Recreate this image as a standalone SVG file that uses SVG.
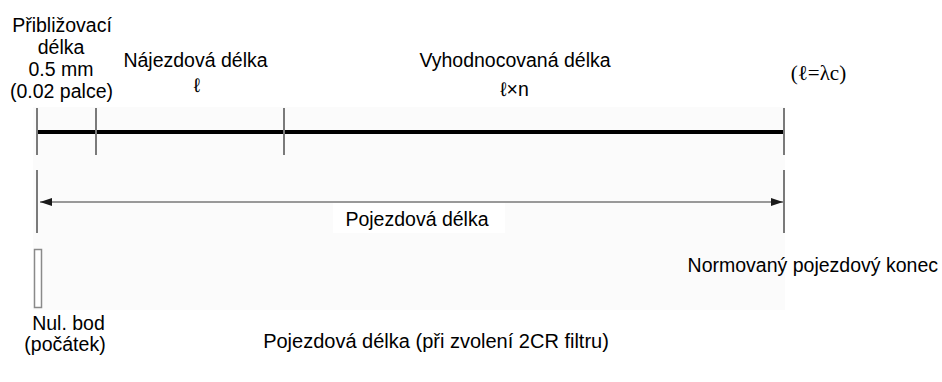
<svg xmlns="http://www.w3.org/2000/svg" width="942" height="382" viewBox="0 0 942 382">
  <style>
    .t { font-family: "Liberation Sans", Arial, sans-serif; font-size: 19.5px; fill: #000; }
    .cap { font-size: 20px; }
    .serif { font-family: "Liberation Serif", "DejaVu Serif", serif; font-size: 21px; fill: #000; }
    .tick { stroke: #7a7a7a; stroke-width: 2; }
  </style>
  <defs>
    <marker id="ah" viewBox="0 0 12 8" refX="12" refY="4" markerWidth="12" markerHeight="8" markerUnits="userSpaceOnUse" orient="auto-start-reverse">
      <path d="M0,0 L12,4 L0,8 Z" fill="#1a1a1a"/>
    </marker>
  </defs>
  <rect width="942" height="382" fill="#ffffff"/>
  <rect id="panel" x="33" y="107" width="752" height="203" fill="#fbfbfb"/>

  <g id="connectors">
    <line id="thick-line" x1="37" y1="132" x2="784" y2="132" stroke="#000" stroke-width="4"/>
    <line class="tick" x1="37" y1="108" x2="37" y2="155"/>
    <line class="tick" x1="96" y1="108" x2="96" y2="155"/>
    <line class="tick" x1="284" y1="108" x2="284" y2="155"/>
    <line class="tick" x1="784" y1="108" x2="784" y2="155"/>
    <line class="tick" x1="37" y1="170" x2="37" y2="233"/>
    <line class="tick" x1="784" y1="170" x2="784" y2="233"/>
    <line id="travel-arrow" x1="40" y1="202" x2="783" y2="202" stroke="#999" stroke-width="2" marker-start="url(#ah)" marker-end="url(#ah)"/>
  </g>

  <g id="approach">
    <text class="t" x="62" y="32" text-anchor="middle">Přibližovací</text>
    <text class="t" x="61" y="54" text-anchor="middle">délka</text>
    <text class="t" x="61" y="76" text-anchor="middle">0.5 mm</text>
    <text class="t" x="61.5" y="97.5" text-anchor="middle">(0.02 palce)</text>
  </g>
  <g id="runup">
    <text class="t" x="195.5" y="67" text-anchor="middle">Nájezdová délka</text>
    <text class="t" x="197" y="92" text-anchor="middle">ℓ</text>
  </g>
  <g id="evaluation">
    <text class="t" x="515" y="67" text-anchor="middle">Vyhodnocovaná délka</text>
    <text class="t" x="514.5" y="96" text-anchor="middle">ℓ×n</text>
  </g>
  <g id="cutoff">
    <text class="serif" x="818.5" y="80" text-anchor="middle">(ℓ=λc)</text>
  </g>
  <g id="travel-label">
    <rect x="333" y="203" width="172" height="30" fill="#ffffff"/>
    <text class="t" x="417" y="226" text-anchor="middle">Pojezdová délka</text>
  </g>
  <g id="origin">
    <rect x="34.5" y="249.5" width="7" height="58" fill="#ffffff" stroke="#8a8a8a" stroke-width="1.5"/>
    <text class="t" x="68.5" y="330" text-anchor="middle">Nul. bod</text>
    <text class="t" x="65" y="351" text-anchor="middle">(počátek)</text>
  </g>
  <g id="end">
    <text class="t" x="938" y="272" text-anchor="end">Normovaný pojezdový konec</text>
  </g>
  <g id="caption">
    <text class="t cap" x="436" y="348" text-anchor="middle">Pojezdová délka (při zvolení 2CR filtru)</text>
  </g>
</svg>
